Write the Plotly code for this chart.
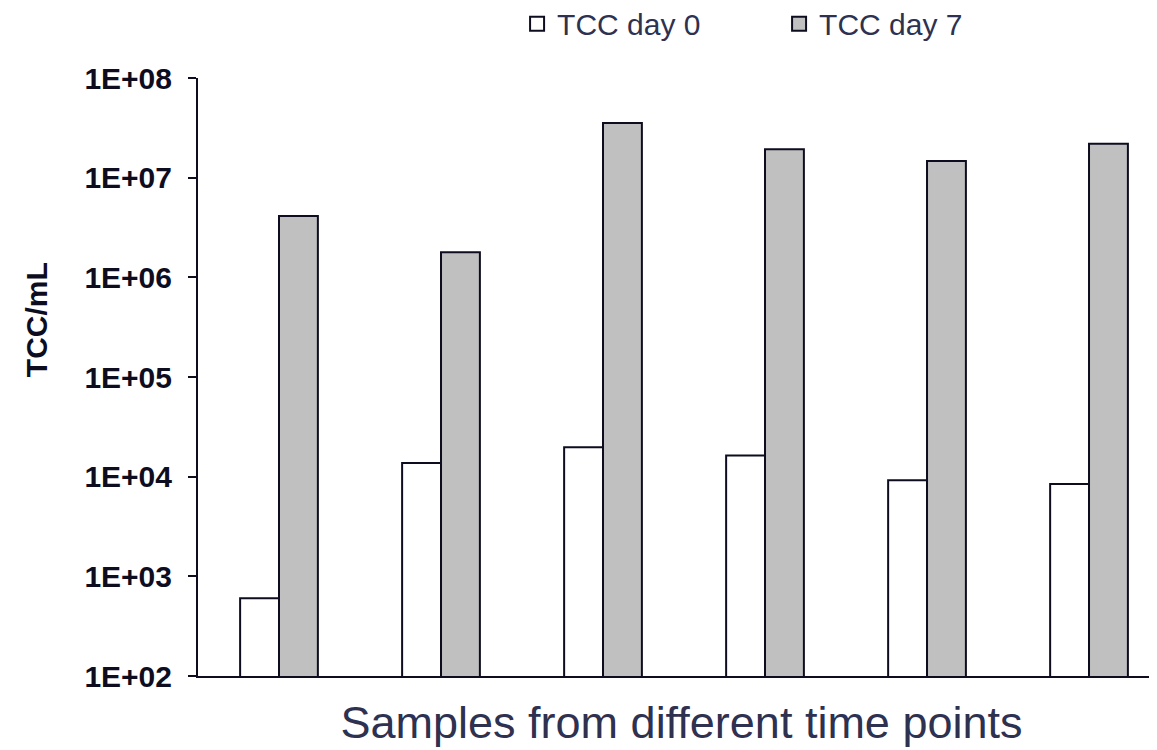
import plotly.graph_objects as go

samples = ["S1", "S2", "S3", "S4", "S5", "S6"]
tcc_day0 = [604, 13700, 19700, 16300, 9200, 8450]
tcc_day7 = [4.13e6, 1.79e6, 3.53e7, 1.93e7, 1.47e7, 2.19e7]
tick_vals = [1e2, 1e3, 1e4, 1e5, 1e6, 1e7, 1e8]
tick_text = ["1E+02", "1E+03", "1E+04", "1E+05", "1E+06", "1E+07", "1E+08"]
series_names = ["TCC day 0", "TCC day 7"]
series_fill = ["white", "#c0c0c0"]

edge = "#0d0d1f"
txt = "#2e3150"

fig = go.Figure()
for name, vals, fill in zip(series_names, [tcc_day0, tcc_day7], series_fill):
    fig.add_trace(go.Bar(x=samples, y=vals, name=name, showlegend=False,
                         marker=dict(color=fill, line=dict(color=edge, width=2))))
# legend entries with square symbols
for name, fill in zip(series_names, series_fill):
    fig.add_trace(go.Scatter(x=[None], y=[None], name=name, mode="markers",
                             marker=dict(symbol="square", size=14, color=fill,
                                         line=dict(color=edge, width=2))))

fig.update_layout(
    width=1157, height=750,
    paper_bgcolor="white", plot_bgcolor="white",
    margin=dict(l=190, r=0, t=70, b=82),
    barmode="group", bargap=0.52, bargroupgap=0,
    font=dict(family="Liberation Sans, Arial", color=txt),
    showlegend=True,
    legend=dict(orientation="h", xref="container", yref="container",
                x=0.44, y=0.979, xanchor="left", yanchor="middle",
                font=dict(size=30, color=txt), entrywidth=217,
                bgcolor="rgba(0,0,0,0)"),
    xaxis=dict(range=[-0.5, 5.469], showticklabels=False, ticks="",
               showline=True, linecolor=edge, linewidth=2, showgrid=False,
               title=dict(text="Samples from different time points",
                          font=dict(size=45, color=txt), standoff=29)),
    yaxis=dict(type="log", range=[2, 8], tickvals=tick_vals, ticktext=tick_text,
               ticks="outside", ticklen=8, tickwidth=2, tickcolor=edge,
               ticklabelstandoff=10,
               showline=True, linecolor=edge, linewidth=2, showgrid=False, zeroline=False,
               tickfont=dict(size=30, color=edge, family="Liberation Sans, Arial", weight="bold")),
    annotations=[dict(text="<b>TCC/mL</b>", textangle=-90, showarrow=False,
                      xref="paper", yref="paper", x=0, y=0.595, xshift=-162,
                      xanchor="center", yanchor="middle",
                      font=dict(size=30, color=edge, family="Liberation Sans, Arial"))],
)

fig.write_html("out.html")
